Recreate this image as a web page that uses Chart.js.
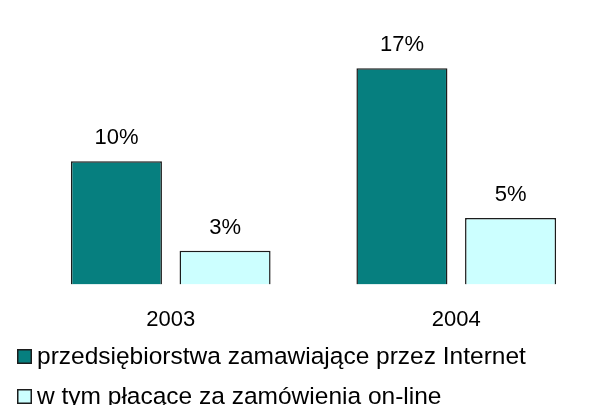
<!DOCTYPE html>
<html>
<head>
<meta charset="utf-8">
<script src="https://cdn.jsdelivr.net/npm/chart.js@4.4.0/dist/chart.umd.min.js"></script>
<style>
html,body{margin:0;padding:0;background:#ffffff;}
#wrap{width:609px;height:405px;position:relative;}
</style>
</head>
<body>
<div id="wrap"><canvas id="c" width="609" height="405"></canvas></div>
<script>
// ---- data ----
const categories = ['2003', '2004'];
const seriesNames = ['przedsiębiorstwa zamawiające przez Internet', 'w tym płacące za zamówienia on-line'];
const orderingValues = [9.8, 17.2];   // labelled 10%, 17%
const payingValues = [2.7, 5.3];      // labelled 3%, 5%
const yMax = 20;

const FONT = "'Liberation Sans', Arial, sans-serif";

const valueLabels = {
  id: 'valueLabels',
  afterDatasetsDraw(chart, args, opts) {
    const ctx = chart.ctx;
    ctx.save();
    ctx.font = opts.size + 'px ' + FONT;
    ctx.fillStyle = '#000';
    ctx.textAlign = 'center';
    ctx.textBaseline = 'alphabetic';
    chart.data.datasets.forEach((ds, di) => {
      const meta = chart.getDatasetMeta(di);
      meta.data.forEach((el, i) => {
        ctx.fillText(Math.round(ds.data[i]) + '%', el.x, el.y - opts.gap);
      });
    });
    ctx.restore();
  }
};

const boxLegend = {
  id: 'boxLegend',
  afterDraw(chart, args, opts) {
    const ctx = chart.ctx;
    ctx.save();
    ctx.font = opts.size + 'px ' + FONT;
    ctx.textBaseline = 'middle';
    ctx.textAlign = 'left';
    chart.data.datasets.forEach((ds, i) => {
      const y = opts.top + i * opts.rowGap;
      ctx.fillStyle = ds.backgroundColor;
      ctx.fillRect(opts.left, y, opts.box, opts.box);
      ctx.strokeStyle = ds.borderColor;
      ctx.lineWidth = 1.5;
      ctx.strokeRect(opts.left + 0.75, y + 0.75, opts.box - 1.5, opts.box - 1.5);
      ctx.fillStyle = '#000';
      ctx.fillText(ds.label, opts.left + opts.box + 5, y + opts.box / 2 + 1);
    });
    ctx.restore();
  }
};

new Chart(document.getElementById('c'), {
  type: 'bar',
  data: {
    labels: categories,
    datasets: [
      { label: seriesNames[0], data: orderingValues, backgroundColor: '#067F7F', borderColor: '#1c1c1c', borderWidth: 1.5 },
      { label: seriesNames[1], data: payingValues, backgroundColor: '#CCFFFF', borderColor: '#1c1c1c', borderWidth: 1.5 }
    ]
  },
  options: {
    responsive: false,
    animation: false,
    events: [],
    layout: { padding: { left: 28, right: 10, top: 33, bottom: 50 } },
    datasets: { bar: { categoryPercentage: 0.761, barPercentage: 0.838 } },
    plugins: {
      legend: { display: false },
      tooltip: { enabled: false },
      valueLabels: { size: 22, gap: 17 },
      boxLegend: { size: 24.5, left: 17, top: 349, rowGap: 40, box: 15 }
    },
    scales: {
      x: {
        grid: { display: false, drawTicks: false },
        border: { display: false },
        ticks: { color: '#000', padding: 22, font: { family: FONT, size: 22 } }
      },
      y: {
        display: false,
        min: 0,
        max: yMax
      }
    }
  },
  plugins: [valueLabels, boxLegend]
});
</script>
</body>
</html>
